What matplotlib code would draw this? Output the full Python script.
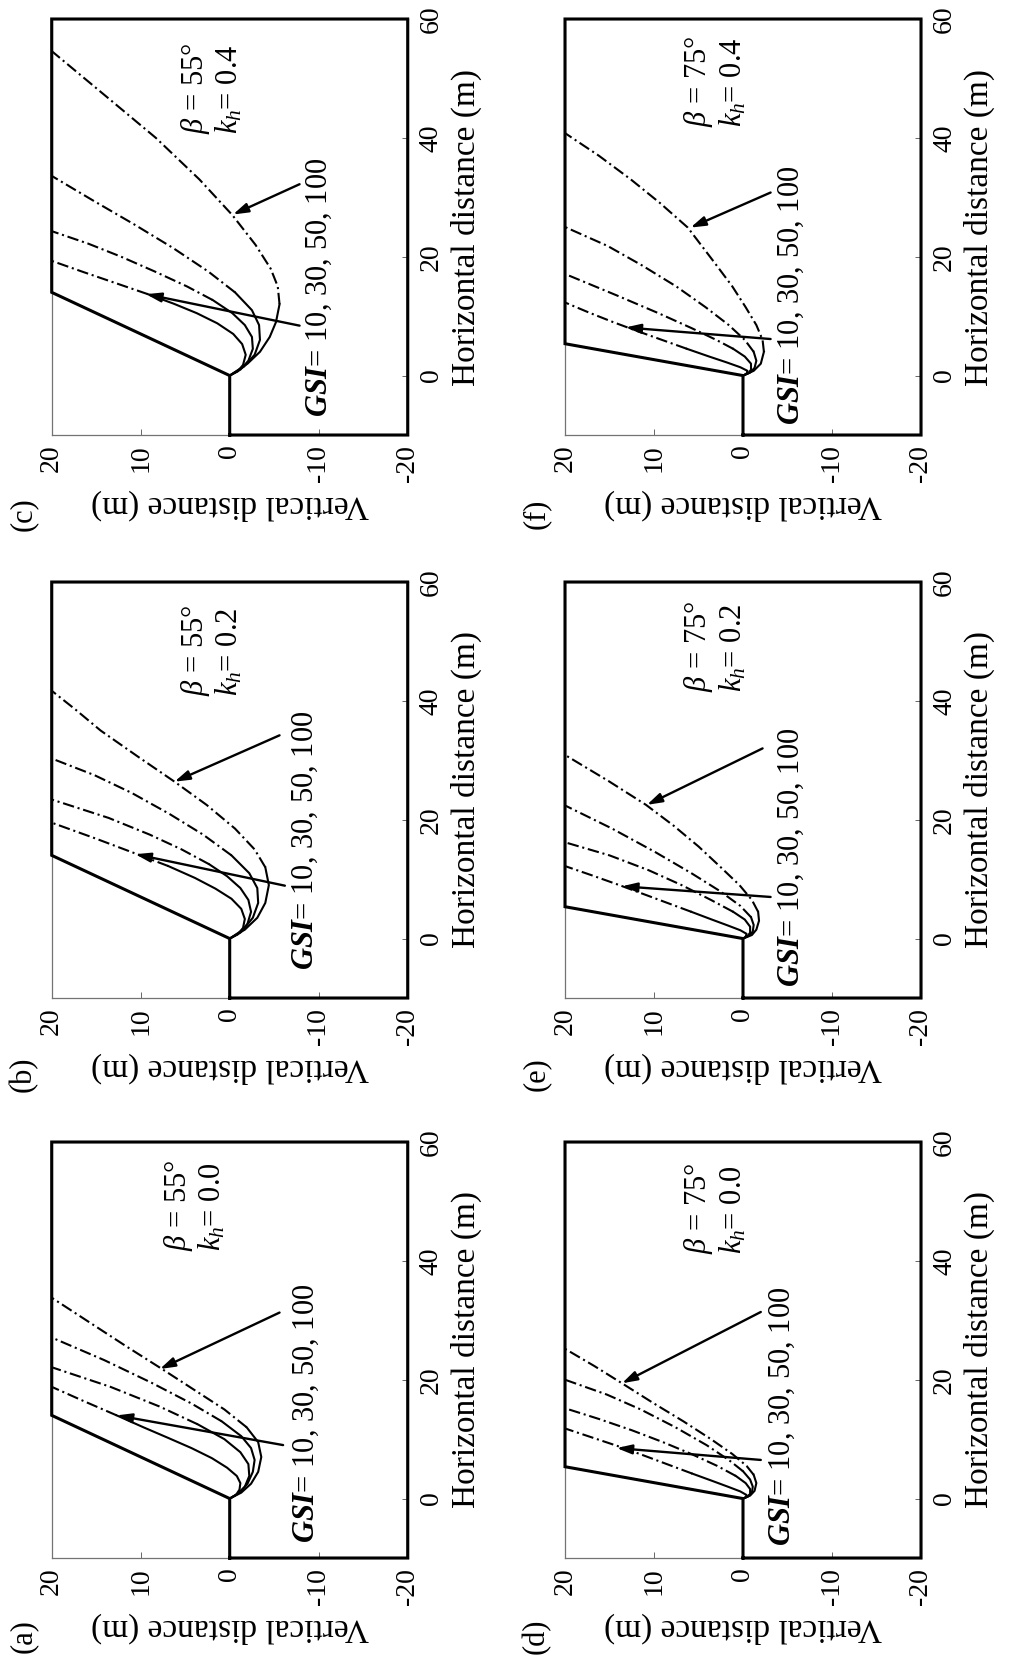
import numpy as np
import matplotlib
matplotlib.use('Agg')
import matplotlib.pyplot as plt

plt.rcParams['font.family'] = ['Liberation Serif', 'DejaVu Serif']
plt.rcParams['mathtext.fontset'] = 'custom'
plt.rcParams['mathtext.rm'] = 'Liberation Serif'
plt.rcParams['mathtext.it'] = 'Liberation Serif:italic'
plt.rcParams['mathtext.bf'] = 'Liberation Serif:italic:bold'

# ---- data ----
panel_names = ['(a)', '(b)', '(c)', '(d)', '(e)', '(f)']
betas = [55, 55, 55, 75, 75, 75]
khs = ['0.0', '0.2', '0.4', '0.0', '0.2', '0.4']
gsi_values = [10, 30, 50, 100]
slope_height = 20
horiz_range = [-10, 60]
vert_range = [-20, 20]
vert_ticks = [20, 10, 0, -10, -20]
horiz_ticks = [0, 20, 40, 60]

# failure surfaces (horizontal, vertical distance), one list per GSI = 10, 30, 50, 100
h_a = [[0, 0.6, 1.5, 2.6, 3.8, 5.2, 6.8, 8.5, 10.2, 12, 14, 16.4, 18.8],
       [0, 0.8, 2, 3.8, 5.8, 7.8, 10, 12.5, 15.5, 18.8, 22.1],
       [0, 1, 2.5, 4.5, 6.5, 8.5, 10.5, 13, 16, 19.5, 23.3, 27.1],
       [0, 1, 2.5, 4.5, 7, 9.5, 12, 15, 18.5, 21.8, 25.5, 29.5, 33.8]]
v_a = [[0, -0.7, -1.1, -1.2, -0.8, 0.3, 2.0, 4.3, 6.9, 9.7, 12.7, 16.4, 20],
       [0, -0.9, -1.7, -2.2, -2.1, -1.2, 0.6, 3.6, 7.9, 13.4, 20],
       [0, -1.1, -2.0, -2.6, -2.8, -2.4, -1.3, 0.9, 4.3, 8.8, 14.1, 20],
       [0, -1.3, -2.4, -3.2, -3.55, -3.2, -1.9, 0.6, 4.2, 7.6, 11.5, 15.6, 20]]

h_b = [[0, 0.7, 1.8, 3.3, 5, 6.7, 8.4, 10.2, 12.2, 14.2, 16.8, 19.5],
       [0, 1, 2.5, 4.5, 6.5, 8.5, 10.5, 12.5, 15, 17.5, 20.3, 23.4],
       [0, 1.5, 3.5, 6, 8.5, 11, 14, 17.5, 21, 24.5, 27.5, 30.3],
       [0, 1.5, 3.5, 6, 9, 12, 15, 18.5, 22.5, 26.4, 30.5, 35, 38.5, 41.7]]
v_b = [[0, -0.9, -1.5, -1.7, -1.3, -0.2, 1.6, 3.9, 6.9, 10.4, 15.0, 20],
       [0, -1.2, -2.0, -2.4, -2.1, -1.2, 0.3, 2.3, 5.4, 9.0, 13.6, 20],
       [0, -1.5, -2.6, -3.2, -3.1, -2.2, -0.2, 3.0, 6.8, 11.0, 15.2, 20],
       [0, -1.7, -3.1, -4.0, -4.4, -4.0, -2.8, -0.6, 2.6, 6.2, 10.2, 14.5, 17.3, 20]]

h_c = [[0, 0.7, 1.8, 3.5, 5.3, 7, 8.8, 10.5, 12.1, 13.7, 15.5, 17.4, 19.3],
       [0, 1, 2.5, 4.5, 6.5, 8.5, 10.5, 12.7, 15, 17.5, 20, 22.2, 24.3],
       [0, 1.5, 3.5, 6, 8.5, 11, 14, 17.5, 21.5, 25.5, 29.5, 33.6],
       [0, 2, 4, 6.5, 9, 12, 15, 18, 22, 27, 33, 40, 47, 54.6]]
v_c = [[0, -0.9, -1.5, -1.8, -1.4, -0.4, 1.4, 3.7, 6.3, 9.2, 12.7, 16.4, 20],
       [0, -1.2, -2.1, -2.6, -2.5, -1.7, -0.3, 1.9, 4.8, 8.4, 12.2, 15.9, 20],
       [0, -1.6, -2.8, -3.4, -3.3, -2.5, -0.6, 2.4, 6.4, 10.8, 15.4, 20],
       [0, -2.0, -3.4, -4.5, -5.2, -5.6, -5.4, -4.6, -2.9, -0.3, 3.4, 8.3, 13.9, 20]]

h_d = [[0, 0.2, 0.6, 1.2, 2, 3, 4.2, 5.6, 7, 8.5, 10.1, 11.8],
       [0, 0.3, 0.8, 1.6, 2.6, 3.8, 5.5, 7.5, 9.5, 11.5, 13.4, 15.2],
       [0, 0.4, 1, 2, 3.2, 4.6, 6.5, 9, 12, 15, 17.5, 20],
       [0, 0.5, 1.3, 2.6, 4, 5.5, 7.5, 10, 13, 16, 19.4, 22.3, 25.2]]
v_d = [[0, -0.3, -0.4, 0.3, 1.7, 3.5, 5.7, 8.2, 10.7, 13.4, 16.6, 20],
       [0, -0.5, -0.8, -0.8, -0.3, 0.8, 2.9, 5.8, 9.0, 12.5, 16.2, 20],
       [0, -0.6, -1.0, -1.1, -0.8, 0.0, 1.6, 4.1, 7.6, 11.5, 15.3, 20],
       [0, -0.8, -1.3, -1.5, -1.2, -0.4, 1.2, 3.6, 6.7, 10.0, 13.6, 16.7, 20]]

h_e = [[0, 0.3, 0.8, 1.4, 2.2, 3.2, 4.5, 6, 7.5, 9, 10.6, 12.2],
       [0, 0.4, 1, 2, 3.2, 4.5, 6.5, 9, 11.5, 14, 16.2],
       [0, 0.5, 1.2, 2.3, 3.6, 5.5, 8, 11, 14.5, 18.5, 22.4],
       [0, 0.6, 1.5, 3, 4.5, 6.5, 9, 12, 15.5, 19, 22.5, 26.5, 30.9]]
v_e = [[0, -0.3, -0.4, 0.3, 1.7, 3.5, 5.8, 8.5, 11.2, 13.9, 16.9, 20],
       [0, -0.5, -0.8, -0.8, -0.2, 1.1, 3.6, 6.9, 10.6, 15.0, 20],
       [0, -0.7, -1.1, -1.2, -0.9, 0.3, 2.6, 5.8, 9.8, 14.7, 20],
       [0, -1.0, -1.5, -1.8, -1.7, -1.0, 0.4, 2.5, 5.0, 7.8, 10.9, 15.1, 20]]

h_f = [[0, 0.3, 0.8, 1.4, 2.2, 3.2, 4.5, 6, 7.5, 9, 10.6, 12.3],
       [0, 0.4, 1, 2, 3.2, 4.5, 6, 8, 10.5, 13.5, 17.1],
       [0, 0.5, 1.3, 2.5, 4, 6, 8.5, 11.5, 15, 18.5, 21.8, 25],
       [0, 0.8, 2, 4, 6, 8.5, 11.5, 15, 19, 24.9, 29, 33, 37, 40.8]]
v_f = [[0, -0.4, -0.5, 0.3, 1.8, 3.8, 6.3, 9.1, 11.9, 14.6, 17.3, 20],
       [0, -0.6, -0.9, -0.9, -0.2, 1.1, 3.0, 5.8, 9.5, 14.2, 20],
       [0, -0.8, -1.3, -1.5, -1.2, -0.2, 1.6, 4.2, 7.5, 11.3, 15.2, 20],
       [0, -1.2, -2.0, -2.35, -2.2, -1.5, -0.3, 1.2, 3.2, 6.2, 9.3, 12.6, 16.2, 20]]

all_h = [h_a, h_b, h_c, h_d, h_e, h_f]
all_v = [v_a, v_b, v_c, v_d, v_e, v_f]

# ---- layout (figure is drawn turned by 90 degrees) ----
W, H = 1014, 1680
col_left = [51.7, 565]
row_bottom = [1558, 998, 435]     # pixel y of the axes bottom edge, (a)/(d) row first
ax_w, ax_h = 356, 416
label_xy = [(23, 1636), (23, 1074), (23, 514), (536, 1636), (536, 1074), (536, 514)]

# annotation positions in (vertical, horizontal) data units
gsi_pos = [(-8.6, -7.4), (-8.5, -5.3), (-10.1, -7.0), (-4.4, -8.0), (-5.4, -8.1), (-5.4, -8.4)]
beta_pos = [(3.9, 41.6), (2.0, 40.9), (2.0, 40.6), (3.1, 41.1), (3.1, 41.5), (3.1, 41.9)]
arrow_in = [((-6.0, 9.0), (12.7, 14.0)), ((-6.2, 8.9), (10.6, 14.2)), ((-7.85, 8.4), (9.4, 13.7)),
            ((-2.0, 6.5), (14.2, 8.5)), ((-3.1, 7.0), (13.6, 8.8)), ((-3.1, 6.15), (13.2, 8.1))]
arrow_out = [((-5.6, 31.3), (7.85, 21.8)), ((-5.6, 34.2), (6.2, 26.4)), ((-7.85, 32.2), (-0.37, 27.1)),
             ((-2.0, 31.4), (13.6, 19.4)), ((-2.2, 32.0), (10.8, 22.5)), ((-3.1, 30.8), (5.9, 24.9))]

dashdot = (0, (5.5, 1.8, 1.0, 1.8))

fig = plt.figure(figsize=(W / 100, H / 100), dpi=100)

for i in range(6):
    col = i // 3
    row = i % 3
    ax = fig.add_axes([col_left[col] / W, 1 - row_bottom[row] / H, ax_w / W, ax_h / H])

    beta = betas[i]
    crest = slope_height / np.tan(np.radians(beta))

    # slope outline
    out_h = [horiz_range[0], 0, crest, horiz_range[1], horiz_range[1], horiz_range[0], horiz_range[0]]
    out_v = [0, 0, slope_height, slope_height, vert_range[0], vert_range[0], 0]
    ax.plot(out_v, out_h, color='k', lw=2.2, clip_on=False, zorder=4, solid_joinstyle='miter')

    # failure surfaces: solid below the slope face, dash-dot behind the crest
    for h, v in zip(all_h[i], all_v[i]):
        h = np.array(h)
        v = np.array(v)
        k = np.nonzero(h <= crest)[0][-1]
        ax.plot(v[:k + 1], h[:k + 1], color='k', lw=1.5)
        ax.plot(v[k:], h[k:], color='k', lw=1.5, linestyle=dashdot)

    ax.set_xlim(vert_range[1], vert_range[0])
    ax.set_ylim(horiz_range)
    ax.set_xticks(vert_ticks)
    ax.set_xticklabels([str(t) for t in vert_ticks])
    ax.set_yticks(horiz_ticks)
    ax.yaxis.tick_right()
    ax.yaxis.set_label_position('right')
    ax.tick_params(direction='in', length=4, width=0.7, color='0.4', labelsize=20, labelrotation=90)
    ax.tick_params(axis='x', pad=7)
    ax.tick_params(axis='y', pad=8)
    for lab in ax.get_yticklabels():
        lab.set_va('center')
    for s in ax.spines.values():
        s.set_color('0.45')
        s.set_linewidth(0.9)

    ax.set_xlabel('Vertical distance (m)', rotation=180, fontsize=24, labelpad=5)
    ax.set_ylabel('Horizontal distance (m)', rotation=90, fontsize=24, labelpad=5)

    ax.text(gsi_pos[i][0], gsi_pos[i][1], r'$\mathbf{GSI}$= ' + ', '.join(str(g) for g in gsi_values),
            rotation=90, ha='center', va='bottom', fontsize=22)
    ax.text(beta_pos[i][0], beta_pos[i][1], r'$\beta$ = %d°' % beta + '\n' + r'$k_h$= ' + khs[i],
            rotation=90, ha='center', va='bottom', fontsize=22, multialignment='left', linespacing=1.1)

    for tail, tip in (arrow_in[i], arrow_out[i]):
        ax.annotate('', xy=tip, xytext=tail,
                    arrowprops=dict(arrowstyle='-|>,head_length=0.45,head_width=0.14', color='k',
                                    lw=1.7, shrinkA=0, shrinkB=0, mutation_scale=20))

    fig.text(label_xy[i][0] / W, 1 - label_xy[i][1] / H, panel_names[i], rotation=90,
             ha='center', va='center', fontsize=22)

fig.savefig('out.png', dpi=100)
